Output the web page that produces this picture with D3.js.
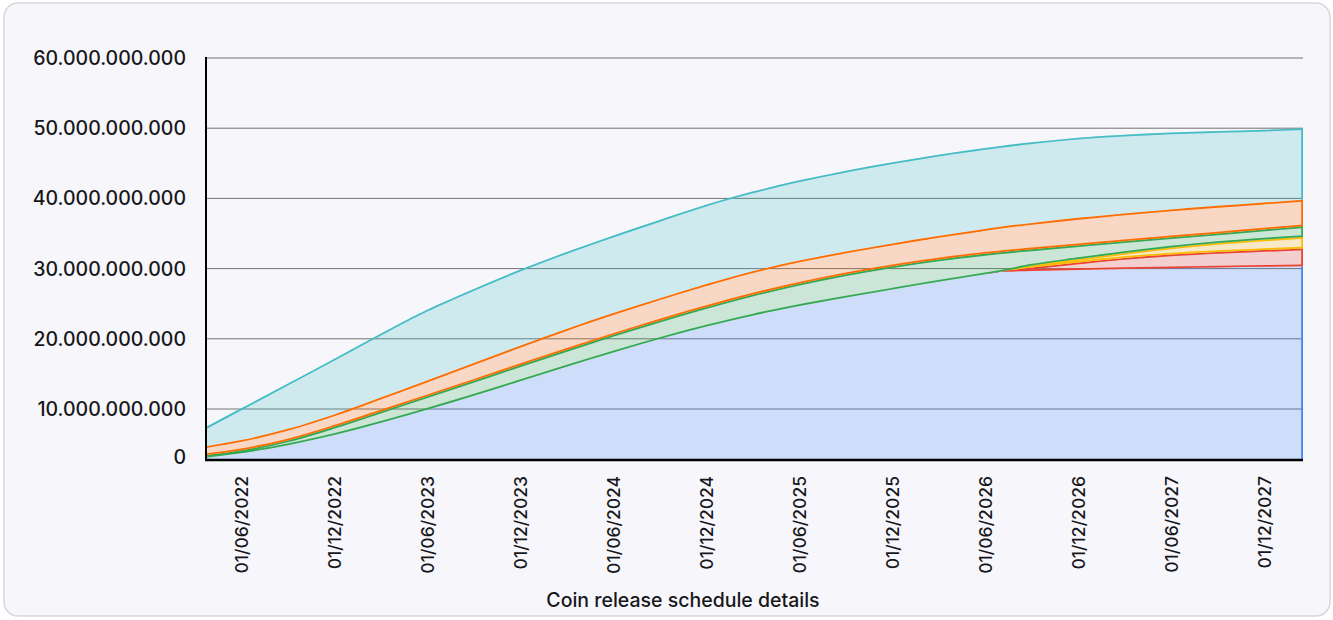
<!DOCTYPE html>
<html lang="en">
<head>
<meta charset="UTF-8">
<title>Coin release schedule</title>
<script src="https://cdn.jsdelivr.net/npm/d3@7"></script>
<style>
  html, body { margin: 0; padding: 0; background: #ffffff; }
  svg text { font-family: Inter, "Noto Sans", sans-serif; fill: #17171b; }
</style>
</head>
<body>
<div id="chart"></div>
<script>
// release points (first = TGE, last = end of schedule)
var dates = ["2022-03-24", "2022-06-01", "2022-09-01", "2022-12-01", "2023-03-01", "2023-06-01",
  "2023-09-01", "2023-12-01", "2024-03-01", "2024-06-01", "2024-09-01", "2024-12-01",
  "2025-03-01", "2025-06-01", "2025-09-01", "2025-12-01", "2026-03-01", "2026-06-01",
  "2026-07-01", "2026-09-01", "2026-12-01", "2027-03-01", "2027-06-01", "2027-09-01",
  "2027-12-01", "2028-02-15"];

// unlocked coins per allocation, in billions (stacked bottom -> top)
var blue = [3.07, 3.71, 4.84, 6.29, 7.99, 9.89, 11.9, 13.96, 16.03, 18.06, 19.99, 21.74, 23.3,
  24.66, 25.87, 27.01, 28.11, 29.2, 29.56, 29.65, 29.8, 29.95, 30.05, 30.15, 30.25, 30.33];
var red = [0, 0, 0, 0, 0, 0, 0, 0, 0, 0, 0, 0, 0, 0, 0, 0, 0, 0, 0,
  0.49, 1.06, 1.55, 1.95, 2.21, 2.39, 2.53];
var yellow = [0, 0, 0, 0, 0, 0, 0, 0, 0, 0, 0, 0, 0, 0, 0, 0, 0, 0, 0,
  0.29, 0.5, 0.71, 1.0, 1.28, 1.5, 1.64];
var green = [0.36, 0.42, 0.69, 1.17, 1.62, 1.91, 2.11, 2.27, 2.38, 2.5, 2.62, 2.79, 2.97,
  3.17, 3.32, 3.33, 3.19, 2.9, 2.77, 2.31, 1.97, 1.69, 1.46, 1.37, 1.43, 1.53];
var orange = [1.28, 1.44, 1.64, 1.77, 1.98, 2.26, 2.53, 2.78, 2.99, 3.1, 3.18, 3.26, 3.34,
  3.31, 3.25, 3.25, 3.34, 3.54, 3.63, 3.77, 3.9, 3.96, 3.97, 3.93, 3.84, 3.76];
var teal = [2.72, 4.52, 6.46, 7.94, 9.11, 10.08, 10.57, 10.85, 10.96, 11.05, 11.18, 11.35, 11.36,
  11.43, 11.5, 11.55, 11.59, 11.53, 11.51, 11.48, 11.41, 11.21, 10.96, 10.67, 10.38, 10.21];

var yTicks = [0, 10e9, 20e9, 30e9, 40e9, 50e9, 60e9];
var xTicks = ["2022-06-01", "2022-12-01", "2023-06-01", "2023-12-01", "2024-06-01", "2024-12-01",
  "2025-06-01", "2025-12-01", "2026-06-01", "2026-12-01", "2027-06-01", "2027-12-01"];

var keys = ["blue", "red", "yellow", "green", "orange", "teal"];
var colors = { blue: "#4285f4", red: "#ea4335", yellow: "#fbbc04", green: "#34a853", orange: "#ff6d01", teal: "#46bdc6" };
// which outline edges of each band are stroked
var edges = { blue: ["right"], red: ["top", "bottom", "right"], yellow: ["top", "bottom", "right"],
  green: ["top", "bottom", "right"], orange: ["top", "bottom", "right"], teal: ["top", "right"] };

var W = 1333, H = 620;
var plotLeft = 206, plotRight = 1303, plotTop = 58, axisY = 460;

var parse = d3.timeParse("%Y-%m-%d");
var rows = dates.map(function (d, i) {
  return { date: parse(d), blue: blue[i] * 1e9, red: red[i] * 1e9, yellow: yellow[i] * 1e9,
    green: green[i] * 1e9, orange: orange[i] * 1e9, teal: teal[i] * 1e9 };
});
var layers = d3.stack().keys(keys)(rows);

var x = d3.scaleTime().domain(d3.extent(rows, function (d) { return d.date; })).range([plotLeft, plotRight]);
var y = d3.scaleLinear().domain([0, 60e9]).range([479.2, plotTop]);

var fmt = d3.formatLocale({ decimal: ",", thousands: ".", grouping: [3], currency: ["", ""] }).format(",d");

var svg = d3.select("#chart").append("svg")
  .attr("width", W)
  .attr("height", H);

// card
svg.append("rect")
  .attr("x", 4).attr("y", 3)
  .attr("width", 1326).attr("height", 613)
  .attr("rx", 14)
  .attr("fill", "#f7f7fb")
  .attr("stroke", "#d8d8dc")
  .attr("stroke-width", 1.5);

var defs = svg.append("defs");
defs.append("clipPath").attr("id", "plot")
  .append("rect")
  .attr("x", plotLeft).attr("y", plotTop - 5)
  .attr("width", plotRight - plotLeft).attr("height", axisY - plotTop + 5);

// gridlines
svg.append("g").selectAll("line")
  .data(yTicks.filter(function (t) { return t > 0; }))
  .join("line")
  .attr("x1", plotLeft).attr("x2", plotRight)
  .attr("y1", function (d) { return y(d); })
  .attr("y2", function (d) { return y(d); })
  .attr("stroke", "#727272")
  .attr("stroke-width", 1);

var area = d3.area()
  .x(function (d) { return x(d.data.date); })
  .y0(function (d) { return y(d[0]); })
  .y1(function (d) { return y(d[1]); })
  .curve(d3.curveMonotoneX);
var topLine = d3.line()
  .x(function (d) { return x(d.data.date); })
  .y(function (d) { return y(d[1]); })
  .curve(d3.curveMonotoneX);
var bottomLine = d3.line()
  .x(function (d) { return x(d.data.date); })
  .y(function (d) { return y(d[0]); })
  .curve(d3.curveMonotoneX);

var plot = svg.append("g").attr("clip-path", "url(#plot)");

layers.forEach(function (layer) {
  var key = layer.key;
  var c = colors[key];
  defs.append("clipPath").attr("id", "band-" + key)
    .append("path").attr("d", area(layer));

  plot.append("path")
    .attr("d", area(layer))
    .attr("fill", c)
    .attr("fill-opacity", 0.22);

  // outline kept inside the band
  var g = plot.append("g").attr("clip-path", "url(#band-" + key + ")")
    .attr("fill", "none")
    .attr("stroke", c)
    .attr("stroke-width", 3.6);
  if (edges[key].indexOf("top") >= 0) g.append("path").attr("d", topLine(layer));
  if (edges[key].indexOf("bottom") >= 0) g.append("path").attr("d", bottomLine(layer));
  if (edges[key].indexOf("right") >= 0) {
    var last = layer[layer.length - 1];
    g.append("line")
      .attr("x1", x(last.data.date)).attr("x2", x(last.data.date))
      .attr("y1", y(last[0])).attr("y2", y(last[1]));
  }
});

// axes
svg.append("line")
  .attr("x1", plotLeft).attr("x2", plotLeft)
  .attr("y1", y(60e9) - 1).attr("y2", axisY + 1)
  .attr("stroke", "#000").attr("stroke-width", 2);
svg.append("line")
  .attr("x1", plotLeft - 1).attr("x2", plotRight)
  .attr("y1", axisY).attr("y2", axisY)
  .attr("stroke", "#000").attr("stroke-width", 2.5);

// y labels (0 sits on the axis line)
svg.append("g").selectAll("text")
  .data(yTicks)
  .join("text")
  .attr("x", 186)
  .attr("y", function (d) { return Math.min(y(d), axisY - 3); })
  .attr("text-anchor", "end")
  .attr("dominant-baseline", "central")
  .attr("font-size", 19.5)
  .attr("font-weight", 500)
  .text(function (d) { return fmt(d); });

// x labels
var dayFmt = d3.timeFormat("%d/%m/%Y");
svg.append("g").selectAll("text")
  .data(xTicks.map(parse))
  .join("text")
  .attr("transform", function (d) { return "translate(" + x(d) + ",476) rotate(-90)"; })
  .attr("text-anchor", "end")
  .attr("dominant-baseline", "central")
  .attr("font-size", 17.5)
  .attr("font-weight", 500)
  .text(function (d) { return dayFmt(d); });

svg.append("text")
  .attr("x", 683)
  .attr("y", 600)
  .attr("text-anchor", "middle")
  .attr("dominant-baseline", "central")
  .attr("font-size", 19.5)
  .attr("font-weight", 500)
  .text("Coin release schedule details");
</script>
</body>
</html>
